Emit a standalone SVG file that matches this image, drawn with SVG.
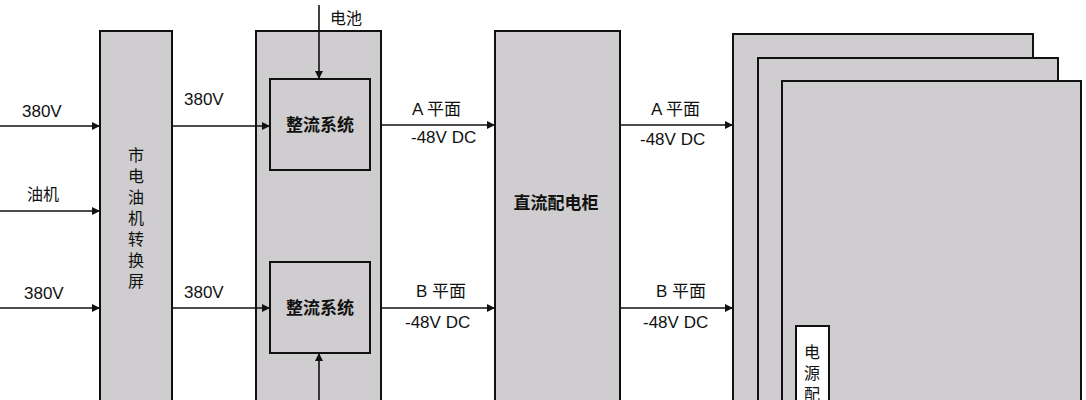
<svg xmlns="http://www.w3.org/2000/svg" width="1086" height="400" viewBox="0 0 1086 400">
<defs>
<style>
.box{fill:#cfcdcf;stroke:#111;stroke-width:2}
.wbox{fill:#fff;stroke:#111;stroke-width:2}
.ln{stroke:#111;stroke-width:1.6;fill:none}
.t{font-family:"Liberation Sans","Noto Sans CJK SC",sans-serif;font-size:17px;fill:#111}
.c{font-family:"Noto Sans CJK SC","Liberation Sans",sans-serif;font-size:16px;fill:#111}
.b{font-family:"Noto Sans CJK SC","Liberation Sans",sans-serif;font-size:17px;font-weight:bold;fill:#111}
.v{font-family:"Noto Sans CJK SC",sans-serif;font-size:16px;fill:#111;writing-mode:vertical-rl;letter-spacing:5px}
.m{text-anchor:middle}
</style>
<marker id="ah" viewBox="0 0 10 10" refX="10" refY="5" markerWidth="9" markerHeight="8" markerUnits="userSpaceOnUse" orient="auto">
<path d="M0,0 L10,5 L0,10 z" fill="#111"/>
</marker>
</defs>
<rect width="1086" height="400" fill="#fff"/>
<g id="switch-panel">
<rect class="box" x="100" y="31" width="72" height="380"/>
<text class="v" x="136" y="147">市电油机转换屏</text>
</g>
<g id="rectifier-cabinet">
<rect class="box" x="256" y="31" width="125" height="380"/>
</g>
<g id="rectifier-a">
<rect class="box" x="270" y="79" width="100" height="91"/>
<text class="b m" x="320" y="131">整流系统</text>
</g>
<g id="rectifier-b">
<rect class="box" x="270" y="262" width="100" height="91"/>
<text class="b m" x="320" y="314">整流系统</text>
</g>
<g id="dc-cabinet">
<rect class="box" x="495" y="31" width="125" height="380"/>
<text class="b m" x="556" y="209">直流配电柜</text>
</g>
<g id="rack-stack">
<rect class="box" x="733" y="34" width="300" height="380"/>
<rect class="box" x="758" y="58" width="300" height="360"/>
<rect class="box" x="782" y="81" width="299" height="340"/>
</g>
<g id="power-distribution">
<rect class="wbox" x="796" y="326" width="33" height="90"/>
<text class="v" x="812" y="344" letter-spacing="4">电源配</text>
</g>
<g id="connectors">
<line class="ln" x1="0" y1="126" x2="100" y2="126" marker-end="url(#ah)"/>
<line class="ln" x1="0" y1="211" x2="100" y2="211" marker-end="url(#ah)"/>
<line class="ln" x1="0" y1="308" x2="100" y2="308" marker-end="url(#ah)"/>
<line class="ln" x1="172" y1="126" x2="270" y2="126" marker-end="url(#ah)"/>
<line class="ln" x1="172" y1="308" x2="270" y2="308" marker-end="url(#ah)"/>
<line class="ln" x1="319" y1="5" x2="319" y2="79" marker-end="url(#ah)"/>
<line class="ln" x1="319" y1="405" x2="319" y2="353" marker-end="url(#ah)"/>
<line class="ln" x1="381" y1="125" x2="495" y2="125" marker-end="url(#ah)"/>
<line class="ln" x1="381" y1="308" x2="495" y2="308" marker-end="url(#ah)"/>
<line class="ln" x1="620" y1="125" x2="733" y2="125" marker-end="url(#ah)"/>
<line class="ln" x1="620" y1="308" x2="733" y2="308" marker-end="url(#ah)"/>
</g>
<g id="labels">
<text class="t" x="22" y="117">380V</text>
<text class="c" x="27" y="200">油机</text>
<text class="t" x="24" y="299">380V</text>
<text class="t" x="184" y="105">380V</text>
<text class="t" x="184" y="298">380V</text>
<text class="c" x="330" y="24">电池</text>
<text class="t" x="412" y="115">A 平面</text>
<text class="t" x="411" y="143">-48V DC</text>
<text class="t" x="416" y="297">B 平面</text>
<text class="t" x="405" y="328">-48V DC</text>
<text class="t" x="651" y="115">A 平面</text>
<text class="t" x="640" y="145">-48V DC</text>
<text class="t" x="656" y="297">B 平面</text>
<text class="t" x="643" y="328">-48V DC</text>
</g>
</svg>
